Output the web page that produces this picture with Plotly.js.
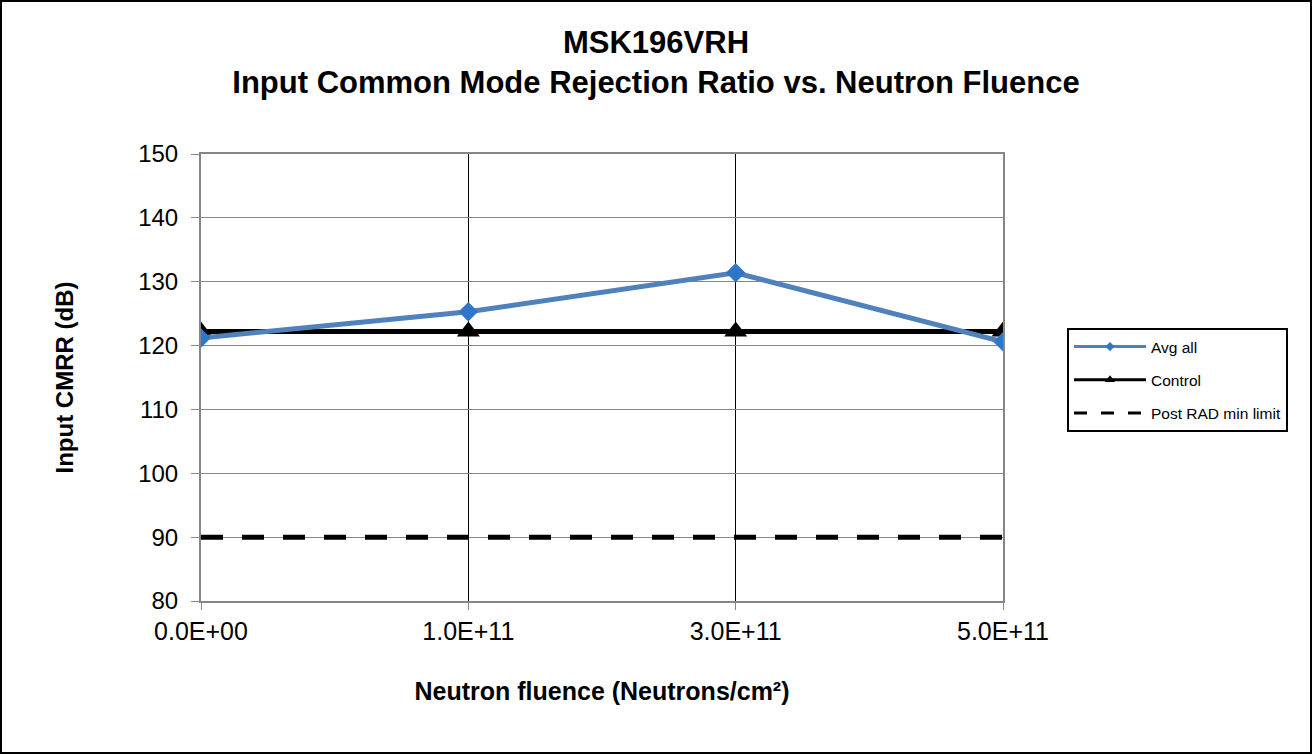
<!DOCTYPE html>
<html>
<head>
<meta charset="utf-8">
<script src="https://cdn.plot.ly/plotly-3.0.1.min.js"></script>
<style>
  body { margin: 0; background: #fff; }
  #wrap { position: relative; width: 1312px; height: 754px; }
  #chart { width: 1312px; height: 754px; }
  #frame { position: absolute; left: 0; top: 0; width: 1308px; height: 750px; border: 2px solid #000; pointer-events: none; }
</style>
</head>
<body>
<div id="wrap">
  <div id="chart"></div>
  <div id="frame"></div>
</div>
<script>
// fluence categories as printed on the x axis
const fluence = ["0.0E+00", "1.0E+11", "3.0E+11", "5.0E+11"];
const avgAll = [121.2, 125.3, 131.4, 120.6];
const control = [122.2, 122.2, 122.2, 122.2];
const postRadLimit = [90, 90, 90, 90];
const yTicks = [80, 90, 100, 110, 120, 130, 140, 150];

const FONT = "Liberation Sans, Arial, Helvetica, sans-serif";
const BLUE_LINE = "#4f81bd";
const BLUE_MARK = "#2f75c8";

const traces = [
  {
    x: fluence, y: postRadLimit, type: "scatter", mode: "lines",
    line: { color: "#000", width: 5, dash: "22px,19px" },
    showlegend: false, hoverinfo: "skip",
  },
  {
    x: fluence, y: control, type: "scatter", mode: "lines+markers",
    line: { color: "#000", width: 5 },
    marker: { symbol: "triangle-up", size: 20, color: "#000" },
    showlegend: false,
  },
  {
    x: fluence, y: avgAll, type: "scatter", mode: "lines+markers",
    line: { color: BLUE_LINE, width: 5 },
    marker: { symbol: "diamond", size: 15, color: BLUE_MARK },
    showlegend: false,
  },
  // legend entries (smaller symbols than the plotted ones)
  legendEntry("Avg all", "g1", { color: BLUE_LINE, width: 3 }, { symbol: "diamond", size: 7, color: BLUE_MARK }),
  legendEntry("Control", "g2", { color: "#000", width: 3 }, { symbol: "triangle-up", size: 9, color: "#000" }),
  legendEntry("Post RAD min limit", "g3", { color: "#000", width: 3, dash: "13px,14px" }, null),
];

function legendEntry(name, group, line, marker) {
  const t = {
    x: [null], y: [null], type: "scatter", name, legendgroup: group,
    mode: marker ? "lines+markers" : "lines", line,
  };
  if (marker) t.marker = marker;
  return t;
}

const layout = {
  width: 1312,
  height: 754,
  margin: { l: 201, r: 309, t: 154, b: 153 },
  paper_bgcolor: "#fff",
  plot_bgcolor: "#fff",
  font: { family: FONT, color: "#000" },
  title: {
    text: "<b>MSK196VRH<br>Input Common Mode Rejection Ratio vs. Neutron Fluence</b>",
    font: { size: 31, family: FONT },
    x: 0.5, xref: "container", xanchor: "center",
    y: 0.93, yref: "container", yanchor: "top",
  },
  xaxis: {
    type: "category",
    range: [0, 3],
    showgrid: true, gridcolor: "#000", gridwidth: 1,
    showline: true, linecolor: "#868686", linewidth: 2, mirror: true,
    ticks: "outside", ticklen: 7, tickcolor: "#868686",
    tickfont: { size: 25, family: FONT },
    title: { text: "<b>Neutron fluence (Neutrons/cm²)</b>", font: { size: 25, family: FONT }, standoff: 38 },
    zeroline: false,
  },
  yaxis: {
    range: [80, 150],
    tickvals: yTicks,
    showgrid: true, gridcolor: "#868686", gridwidth: 1,
    showline: true, linecolor: "#868686", linewidth: 2, mirror: true,
    ticks: "outside", ticklen: 8, tickcolor: "#868686",
    tickfont: { size: 24, family: FONT },
    ticklabelstandoff: 8,
    title: { text: "<b>Input CMRR (dB)</b>", font: { size: 24, family: FONT }, standoff: 58 },
    zeroline: false,
  },
  showlegend: true,
  legend: {
    x: 1.0798, y: 0.6107, xanchor: "left", yanchor: "top",
    bordercolor: "#000", borderwidth: 2, bgcolor: "#fff",
    font: { size: 15.5, family: FONT },
    itemwidth: 72,
    tracegroupgap: 10,
    traceorder: "grouped",
  },
};

Plotly.newPlot("chart", traces, layout, { displayModeBar: false, staticPlot: true });
</script>
</body>
</html>
